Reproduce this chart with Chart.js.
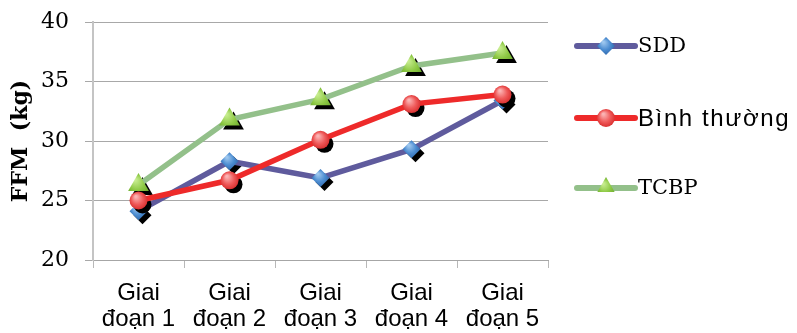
<!DOCTYPE html>
<html>
<head>
<meta charset="utf-8">
<script src="https://cdn.jsdelivr.net/npm/chart.js@4.4.1/dist/chart.umd.min.js"></script>
<style>
  html, body { margin: 0; padding: 0; background: #ffffff; }
  #wrap { width: 797px; height: 333px; }
</style>
</head>
<body>
<div id="wrap"><canvas id="c" width="797" height="333"></canvas></div>
<script>
// Fat-free mass by stage for three nutrition groups
const categories = [['Giai', 'đoạn 1'], ['Giai', 'đoạn 2'], ['Giai', 'đoạn 3'], ['Giai', 'đoạn 4'], ['Giai', 'đoạn 5']];
const seriesNames = ['SDD', 'Bình thường', 'TCBP'];
const sddValues = [24.1, 28.3, 26.9, 29.3, 33.4];
const normalValues = [25.0, 26.7, 30.1, 33.1, 33.9];
const tcbpValues = [26.3, 31.8, 33.5, 36.3, 37.4];
const yTickValues = [20, 25, 30, 35, 40];
const yTitle = 'FFM  (kg)';

// Glossy marker fills: light top-left highlight fading into the base colour
function glossFill(ctx, x, y, r, light, base, dark) {
  const g = ctx.createRadialGradient(x - r * 0.3, y - r * 0.45, r * 0.1, x, y, r * 1.1);
  g.addColorStop(0, light);
  g.addColorStop(0.55, base);
  g.addColorStop(1, dark);
  return g;
}

const markerStyles = [
  { line: '#5f5b9d', style: 'rectRot', radius: 9, light: '#9cc6ee', base: '#4a8bd0', dark: '#2f67aa' },
  { line: '#ee2a2a', style: 'circle', radius: 9, light: '#fbb3b3', base: '#ef5a5a', dark: '#d62a2a' },
  { line: '#93c08a', style: 'triangle', radius: 12, light: '#c6ec8e', base: '#8cc843', dark: '#68a62b' }
];

function pointFill(i) {
  const m = markerStyles[i];
  return (c) => {
    const chart = c.chart;
    if (c.type !== 'data' || !chart.scales.x || !chart.scales.y) return m.base;
    const x = chart.scales.x.getPixelForValue(c.dataIndex);
    const y = chart.scales.y.getPixelForValue(c.raw);
    if (!isFinite(x) || !isFinite(y)) return m.base;
    return glossFill(chart.ctx, x, y, m.radius, m.light, m.base, m.dark);
  };
}

function makeDataset(i, values, order) {
  const m = markerStyles[i];
  return {
    label: seriesNames[i],
    data: values,
    order: order,
    borderColor: m.line,
    borderWidth: 5.5,
    tension: 0,
    pointStyle: m.style,
    pointRadius: m.radius,
    pointHoverRadius: m.radius,
    pointBorderWidth: 0,
    pointBackgroundColor: pointFill(i)
  };
}

// Solid black drop shadow under each marker, drawn just before its series
const markerShadow = {
  id: 'markerShadow',
  beforeDatasetDraw(chart, args) {
    const ctx = chart.ctx;
    const ds = chart.data.datasets[args.index];
    ctx.save();
    ctx.fillStyle = '#000000';
    ctx.strokeStyle = '#000000';
    args.meta.data.forEach((pt) => {
      Chart.helpers.drawPoint(ctx, { pointStyle: ds.pointStyle, radius: ds.pointRadius, rotation: 0, borderWidth: 0 }, pt.x + 4, pt.y + 4);
    });
    ctx.restore();
  }
};

// Legend on the right: line sample with marker, then the series name
const sideLegend = {
  id: 'sideLegend',
  afterDraw(chart) {
    const ctx = chart.ctx;
    const rows = [46, 118, 188];
    const fonts = [
      { font: '21px "DejaVu Serif"', spacing: '0px' },
      { font: '24px "Liberation Sans"', spacing: '1.6px' },
      { font: '21px "DejaVu Serif"', spacing: '0px' }
    ];
    chart.data.datasets.forEach((ds, i) => {
      const m = markerStyles[i];
      const y = rows[i];
      ctx.save();
      ctx.strokeStyle = m.line;
      ctx.lineWidth = 6;
      ctx.lineCap = 'round';
      ctx.beginPath();
      ctx.moveTo(577, y);
      ctx.lineTo(635, y);
      ctx.stroke();
      const r = i === 2 ? 10 : m.radius;
      ctx.fillStyle = glossFill(ctx, 606, y, r, m.light, m.base, m.dark);
      Chart.helpers.drawPoint(ctx, { pointStyle: m.style, radius: r, rotation: 0, borderWidth: 0 }, 606, i === 2 ? y - 1 : y);
      ctx.fillStyle = '#000000';
      ctx.font = fonts[i].font;
      if ('letterSpacing' in ctx) ctx.letterSpacing = fonts[i].spacing;
      ctx.textBaseline = 'middle';
      ctx.textAlign = 'left';
      ctx.fillText(ds.label, 638, y + 1);
      ctx.restore();
    });
  }
};

new Chart(document.getElementById('c'), {
  type: 'line',
  data: {
    labels: categories,
    datasets: [
      makeDataset(0, sddValues, 1),
      makeDataset(1, normalValues, 0),
      makeDataset(2, tcbpValues, 2)
    ]
  },
  plugins: [markerShadow, sideLegend],
  options: {
    responsive: false,
    animation: false,
    devicePixelRatio: 1,
    layout: { padding: { top: 22, right: 249, left: 0, bottom: 0 } },
    plugins: { legend: { display: false }, tooltip: { enabled: false } },
    scales: {
      x: {
        offset: true,
        afterFit(scale) { scale.height = 73; },
        grid: { offset: true, drawOnChartArea: false, drawTicks: true, tickLength: 8, color: '#b8b8b8', lineWidth: 1 },
        border: { color: '#a6a6a6', width: 1 },
        ticks: {
          color: '#000000',
          padding: 12,
          maxRotation: 0,
          autoSkip: false,
          font: { family: '"Liberation Sans", Arial, sans-serif', size: 24, lineHeight: 1.1 }
        }
      },
      y: {
        min: 20,
        max: 40,
        afterFit(scale) {
          scale.width = 93;
          scale.paddingTop = 0;
          scale.paddingBottom = 0;
        },
        afterBuildTicks(scale) { scale.ticks = yTickValues.map((v) => ({ value: v })); },
        grid: { color: '#a8a8a8', lineWidth: 1, tickLength: 8, drawTicks: true },
        border: { color: '#c4c4c4', width: 2 },
        ticks: {
          color: '#000000',
          padding: 16,
          font: { family: '"DejaVu Serif", serif', size: 22 }
        },
        title: {
          display: true,
          text: yTitle,
          color: '#000000',
          padding: { top: 8, bottom: 0 },
          font: { family: '"DejaVu Serif", serif', size: 22, weight: 'bold' }
        }
      }
    }
  }
});
</script>
</body>
</html>
